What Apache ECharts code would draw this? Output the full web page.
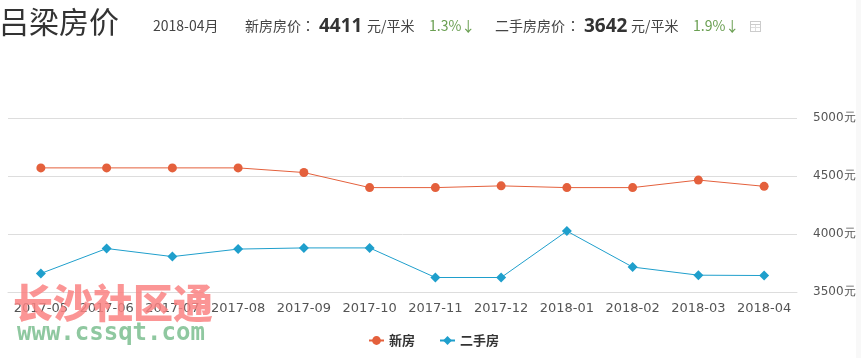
<!DOCTYPE html>
<html lang="en">
<head>
    <meta http-equiv="Content-Type" content="text/html; charset=utf-8"/>
    <title>吕梁房价</title>
    <script src="https://cdn.jsdelivr.net/npm/echarts@6/dist/echarts.min.js"></script>
    <style>
        html, body {
            margin: 0;
            padding: 0;
            background: #fff;
            overflow: hidden;
            font-family: "Noto Sans CJK SC", sans-serif;
            color: #444;
        }

        .page {
            position: relative;
            width: 861px;
            height: 358px;
        }

        .scroll {
            position: absolute;
            right: 0;
            top: 0;
            width: 5px;
            height: 358px;
            background: #f8f8f8;
        }

        #chart {
            position: absolute;
            left: 0;
            top: 0;
            width: 861px;
            height: 358px;
        }

        .head span {
            position: absolute;
            white-space: nowrap;
            font-size: 14px;
            line-height: 20px;
            top: 15px;
        }

        .head .city {
            left: -1px;
            top: 0;
            font-size: 30px;
            line-height: 40px;
            font-weight: 400;
            color: #333;
        }

        .head .num {
            font-size: 19px;
            font-weight: 700;
            color: #333;
            top: 15px;
            font-family: "Open Sans", sans-serif;
        }

        .head .down {
            color: #6a9f52;
        }

        .head .colon {
            font-family: "Noto Sans CJK TC", sans-serif;
        }

        .head .icon {
            left: 750px;
            top: 21px;
            width: 9px;
            height: 9px;
            border: 1px solid #ccc;
            background: linear-gradient(#ccc, #ccc) 0 2px / 100% 1px no-repeat,
                        linear-gradient(#ddd, #ddd) 0 5px / 100% 1px no-repeat,
                        linear-gradient(#ddd, #ddd) 4px 2px / 1px 100% no-repeat;
        }
    </style>
</head>
<body>
<div class="page">
    <div class="scroll"></div>
    <div id="chart"></div>
    <div class="head">
        <span class="city">吕梁房价</span>
        <span style="left:153px">2018-04月</span>
        <span style="left:245px">新房房价</span>
        <span class="colon" style="left:301px">：</span>
        <span class="num" style="left:319px">4411</span>
        <span style="left:367px">元/平米</span>
        <span class="down" style="left:429px">1.3%↓</span>
        <span style="left:495px">二手房房价</span>
        <span class="colon" style="left:566px">：</span>
        <span class="num" style="left:584px">3642</span>
        <span style="left:631px">元/平米</span>
        <span class="down" style="left:693px">1.9%↓</span>
        <span class="icon"></span>
    </div>
</div>
<script type="text/javascript">

  var months = ['2017-05', '2017-06', '2017-07', '2017-08', '2017-09', '2017-10', '2017-11', '2017-12', '2018-01', '2018-02', '2018-03', '2018-04'];
  var newHouse = [4570, 4570, 4570, 4570, 4530, 4400, 4400, 4415, 4400, 4400, 4465, 4411];
  var oldHouse = [3660, 3875, 3805, 3870, 3880, 3880, 3625, 3625, 4025, 3715, 3645, 3642];

  var chart = echarts.init(document.getElementById('chart'));

  chart.setOption({
    animation: false,
    grid: {left: 8, right: 64, top: 118, bottom: 66, outerBoundsMode: 'none'},
    legend: {
      bottom: 6,
      left: 363,
      itemGap: 24,
      itemWidth: 15,
      itemHeight: 11,
      textStyle: {fontFamily: 'Noto Sans CJK SC', fontSize: 13, fontWeight: 700, color: '#333'},
      data: ['新房', '二手房']
    },
    xAxis: {
      type: 'category',
      data: months,
      axisLine: {lineStyle: {color: '#ddd'}},
      axisTick: {alignWithLabel: true, inside: true, length: 11, lineStyle: {color: '#ddd'}},
      axisLabel: {fontFamily: 'DejaVu Sans', fontSize: 13, color: '#555', margin: 10, interval: 0}
    },
    yAxis: {
      type: 'value',
      position: 'right',
      min: 3500,
      max: 5000,
      interval: 500,
      axisLine: {show: false},
      axisTick: {show: false},
      splitLine: {lineStyle: {color: '#ddd'}},
      axisLabel: {
        formatter: function (value) {
          return value + '元';
        },
        fontFamily: 'DejaVu Sans',
        fontSize: 12,
        color: '#555',
        margin: 16,
        padding: [0, 0, 2, 0]
      }
    },
    series: [
      {
        name: '新房',
        type: 'line',
        data: newHouse,
        symbol: 'circle',
        symbolSize: 9,
        itemStyle: {color: '#e4603c'},
        lineStyle: {width: 1, color: '#e4603c'}
      },
      {
        name: '二手房',
        type: 'line',
        data: oldHouse,
        symbol: 'diamond',
        symbolSize: 10,
        itemStyle: {color: '#1f9fcc'},
        lineStyle: {width: 1, color: '#1f9fcc'}
      }
    ],
    graphic: [
      {
        type: 'text',
        left: 13,
        top: 283,
        z: 100,
        style: {text: '长沙社区通', fontFamily: 'Noto Sans CJK SC', fontWeight: 900, fontSize: 40, fill: 'rgba(250,130,130,0.85)'}
      },
      {
        type: 'text',
        left: 17,
        top: 322,
        z: 100,
        style: {text: 'www.cssqt.com', fontFamily: 'DejaVu Sans Mono', fontSize: 24, fontWeight: 700, fill: '#8fc8a0'}
      }
    ]
  });
</script>
</body>
</html>
